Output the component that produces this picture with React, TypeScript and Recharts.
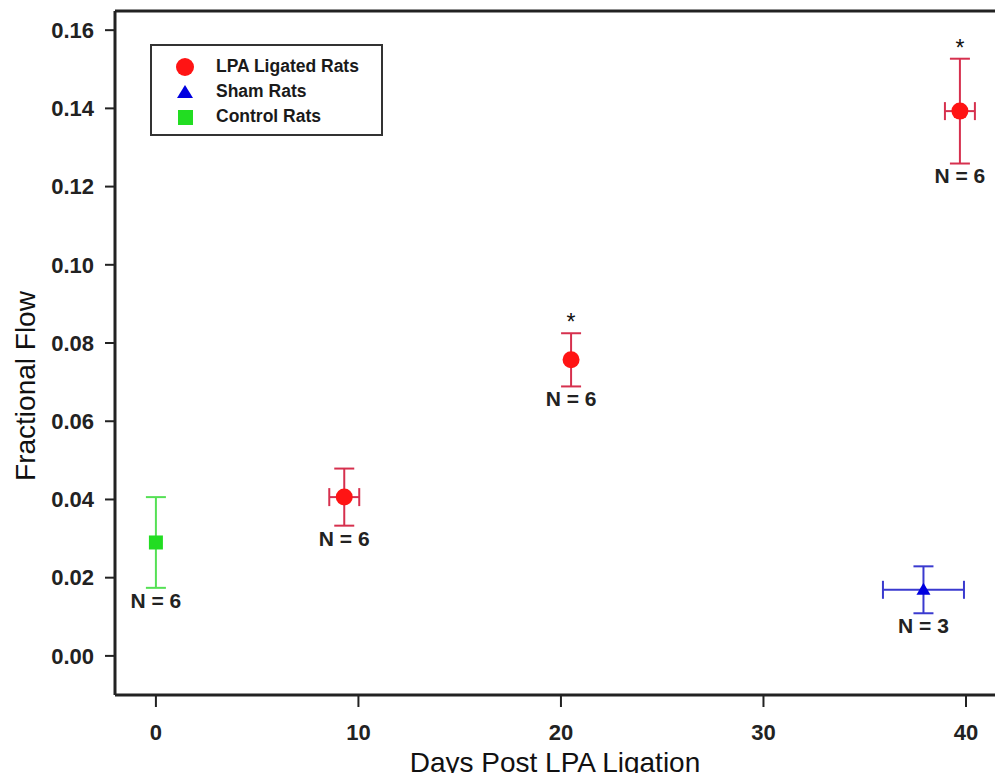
import { ScatterChart, Scatter, XAxis, YAxis, ErrorBar, ReferenceDot, ReferenceLine, Legend } from "recharts"

// LPA ligated rats
const lpaDays = [9.3, 20.5, 39.7]
const lpaDayErr = [0.74, 0, 0.74]
const lpaFlow = [0.0406, 0.0757, 0.1393]
const lpaFlowErr = [0.0073, 0.0068, 0.0134]
const lpaN = [6, 6, 6]
const lpaSig = [false, true, true]

// Sham rats
const shamDays = [37.9]
const shamDayErr = [2.0]
const shamFlow = [0.0169]
const shamFlowErr = [0.006]
const shamN = [3]

// Control rats
const controlDays = [0]
const controlFlow = [0.029]
const controlFlowErr = [0.0116]
const controlN = [6]

const seriesNames = ["LPA Ligated Rats", "Sham Rats", "Control Rats"]
const xTicks = [0, 10, 20, 30, 40]
const yTicks = [0, 0.02, 0.04, 0.06, 0.08, 0.1, 0.12, 0.14, 0.16]
const X_DOMAIN = [-2.02, 41.63]
const Y_DOMAIN = [-0.01, 0.1649]

const lpaData = lpaDays.map((d, i) => ({
  day: d,
  flow: lpaFlow[i],
  dayErr: lpaDayErr[i],
  flowErr: lpaFlowErr[i],
  n: lpaN[i],
  sig: lpaSig[i],
}))
const shamData = shamDays.map((d, i) => ({
  day: d,
  flow: shamFlow[i],
  dayErr: shamDayErr[i],
  flowErr: shamFlowErr[i],
  n: shamN[i],
  sig: false,
}))
const controlData = controlDays.map((d, i) => ({
  day: d,
  flow: controlFlow[i],
  flowErr: controlFlowErr[i],
  n: controlN[i],
  sig: false,
}))

const allPoints = [...lpaData, ...shamData, ...controlData]

const FONT = "'Liberation Sans', Arial, Helvetica, sans-serif"
const AXIS = "#222"

function Circle({ cx, cy, fill }: any) {
  return <circle cx={cx} cy={cy} r={8.5} fill={fill} />
}
function Triangle({ cx, cy, fill }: any) {
  return <path d={`M${cx},${cy - 7}L${cx + 7},${cy + 5}L${cx - 7},${cy + 5}Z`} fill={fill} />
}
function Square({ cx, cy, fill }: any) {
  return <rect x={cx - 7} y={cy - 7} width={14} height={14} fill={fill} />
}

function LegendIcon({ type, color }: { type: string; color: string }) {
  return (
    <svg width={22} height={20} style={{ display: "block" }}>
      {type === "circle" && <circle cx={11} cy={10} r={9} fill={color} />}
      {type === "triangle" && <path d="M11,3L19,16L3,16Z" fill={color} />}
      {type === "square" && <rect x={4} y={3} width={15} height={15} fill={color} />}
    </svg>
  )
}

function LegendBox({ payload }: any) {
  const items = [...(payload || [])].sort(
    (a: any, b: any) => seriesNames.indexOf(a.value) - seriesNames.indexOf(b.value),
  )
  return (
    <div
      style={{
        border: "2px solid #333",
        width: 229,
        height: 80,
        boxSizing: "content-box",
        paddingTop: 8,
      }}
    >
      {items.map((item: any) => (
        <div key={item.value} style={{ display: "flex", alignItems: "center", height: 25 }}>
          <div style={{ width: 22, marginLeft: 22 }}>
            <LegendIcon type={item.type} color={item.color} />
          </div>
          <span style={{ marginLeft: 20, fontSize: 17.5, fontWeight: "bold", color: "#1a1a1a", fontFamily: FONT }}>
            {item.value}
          </span>
        </div>
      ))}
    </div>
  )
}

function YTitle() {
  return (
    <text x={35} y={386} transform="rotate(-90, 35, 386)" textAnchor="middle" fontSize={28} fill="#111" fontFamily={FONT}>
      Fractional Flow
    </text>
  )
}

function XTitle() {
  return (
    <text x={555} y={772} textAnchor="middle" fontSize={28} fill="#111" fontFamily={FONT}>
      Days Post LPA Ligation
    </text>
  )
}

export default function App() {
  return (
    <div style={{ margin: -8, fontFamily: FONT, background: "#fff", width: 1003, height: 781 }}>
      <ScatterChart width={1003} height={781} margin={{ top: 11, right: 4, bottom: 0, left: 0 }}>
        <XAxis
          dataKey="day"
          type="number"
          domain={X_DOMAIN}
          ticks={xTicks}
          allowDataOverflow
          height={86}
          tickSize={12}
          tickMargin={17}
          axisLine={{ stroke: AXIS, strokeWidth: 3 }}
          tickLine={{ stroke: AXIS, strokeWidth: 2 }}
          tick={{ fontSize: 22, fontWeight: "bold", fill: "#222", fontFamily: FONT }}
          label={{ content: () => <XTitle /> }}
        />
        <YAxis
          dataKey="flow"
          type="number"
          domain={Y_DOMAIN}
          ticks={yTicks}
          allowDataOverflow
          width={115}
          tickSize={10}
          tickMargin={11}
          tickFormatter={(v: number) => v.toFixed(2)}
          axisLine={{ stroke: AXIS, strokeWidth: 3 }}
          tickLine={{ stroke: AXIS, strokeWidth: 2 }}
          tick={{ fontSize: 22, fontWeight: "bold", fill: "#222", fontFamily: FONT }}
          label={{ content: () => <YTitle /> }}
        />
        <YAxis
          yAxisId="right"
          orientation="right"
          type="number"
          domain={[0, 1]}
          width={0}
          tick={false}
          tickLine={false}
          axisLine={{ stroke: "#ccc", strokeWidth: 1 }}
        />
        <ReferenceLine y={Y_DOMAIN[1]} stroke={AXIS} strokeWidth={3} ifOverflow="visible" />
        <Legend
          layout="vertical"
          align="center"
          verticalAlign="middle"
          wrapperStyle={{ left: 150, top: 44, width: "auto" }}
          content={<LegendBox />}
        />
        <Scatter name="LPA Ligated Rats" data={lpaData} fill="#ff1414" legendType="circle" shape={<Circle />} isAnimationActive={false}>
          <ErrorBar dataKey="flowErr" direction="y" width={10} stroke="#d6304e" strokeWidth={2} />
          <ErrorBar dataKey="dayErr" direction="x" width={9} stroke="#d6304e" strokeWidth={2} />
        </Scatter>
        <Scatter name="Sham Rats" data={shamData} fill="#0000e0" legendType="triangle" shape={<Triangle />} isAnimationActive={false}>
          <ErrorBar dataKey="flowErr" direction="y" width={10} stroke="#3a3acf" strokeWidth={2} />
          <ErrorBar dataKey="dayErr" direction="x" width={9} stroke="#3a3acf" strokeWidth={2} />
        </Scatter>
        <Scatter name="Control Rats" data={controlData} fill="#22dd22" legendType="square" shape={<Square />} isAnimationActive={false}>
          <ErrorBar dataKey="flowErr" direction="y" width={10} stroke="#55e055" strokeWidth={2} />
        </Scatter>
        {allPoints.map((p, i) => (
          <ReferenceDot
            key={`n-${i}`}
            x={p.day}
            y={p.flow - p.flowErr}
            r={0}
            fill="none"
            stroke="none"
            ifOverflow="visible"
            label={{ value: `N = ${p.n}`, position: "bottom", offset: 5, fontSize: 21, fontWeight: "bold", fill: "#222", fontFamily: FONT }}
          />
        ))}
        {allPoints
          .filter((p) => p.sig)
          .map((p, i) => (
            <ReferenceDot
              key={`s-${i}`}
              x={p.day}
              y={p.flow + p.flowErr}
              r={0}
              fill="none"
              stroke="none"
              ifOverflow="visible"
              label={{ value: "*", position: "top", offset: 3, fontSize: 23, fill: "#111", fontFamily: FONT }}
            />
          ))}
      </ScatterChart>
    </div>
  )
}
